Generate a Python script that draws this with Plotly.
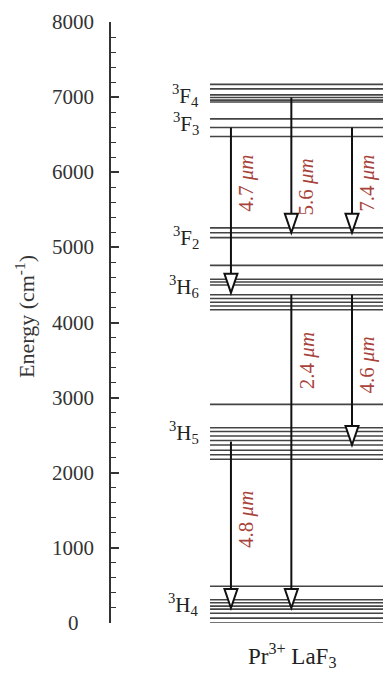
import plotly.graph_objects as go

# Crystal-field levels of Pr3+ in LaF3 (energies in cm^-1)
manifold_labels = ["<sup>3</sup>F<sub>4</sub>", "<sup>3</sup>F<sub>3</sub>",
                   "<sup>3</sup>F<sub>2</sub>", "<sup>3</sup>H<sub>6</sub>",
                   "<sup>3</sup>H<sub>5</sub>", "<sup>3</sup>H<sub>4</sub>"]
manifold_label_energy = [7020, 6650, 5130, 4480, 2530, 250]

levels_3F4 = [7170, 7110, 7030, 6995, 6960, 6935]
levels_3F3 = [6710, 6595, 6475]
levels_3F2 = [5260, 5195, 5130]
levels_extra = [4760, 2910]
levels_3H6 = [4575, 4540, 4500, 4370, 4320, 4270, 4220, 4170]
levels_3H5 = [2600, 2550, 2490, 2430, 2370, 2300, 2240, 2180]
levels_3H4 = [490, 310, 270, 225, 185, 130, 65, 0]

# Radiative transitions: start energy, end energy, column, wavelength label
trans_start = [6595, 6995, 6595, 4370, 4370, 2415]
trans_end = [4395, 5195, 5195, 200, 2370, 200]
trans_column = [4.41, 6.63, 8.86, 6.63, 8.86, 4.41]
trans_label = ["4.7", "5.6", "7.4", "2.4", "4.6", "4.8"]
trans_label_energy = [5860, 5800, 5860, 3490, 3440, 1385]

y_ticks = [0, 1000, 2000, 3000, 4000, 5000, 6000, 7000, 8000]

# Layout geometry
W, H = 383, 674
M_L, M_R, M_T, M_B = 111, 0, 22, 51
X_RANGE = [0, 10]
Y_RANGE = [0, 8000]
plot_w = W - M_L - M_R
plot_h = H - M_T - M_B
px_per_x = plot_w / (X_RANGE[1] - X_RANGE[0])
px_per_y = plot_h / (Y_RANGE[1] - Y_RANGE[0])

SERIF = "Liberation Serif, Times New Roman, serif"
LEVEL_X0 = 3.64
LEVEL_X1 = 10.5

fig = go.Figure()
shapes = []
all_levels = (levels_3F4 + levels_3F3 + levels_3F2 + levels_extra
              + levels_3H6 + levels_3H5 + levels_3H4)
for e in all_levels:
    shapes.append(dict(type="line", xref="x", yref="y", x0=LEVEL_X0, x1=LEVEL_X1,
                       y0=e, y1=e, line=dict(color="#444444", width=1.6), layer="below"))

head_h = 19 / px_per_y          # arrowhead height in energy units
head_hw = 6.5 / px_per_x        # arrowhead half width in x units
for s, e, x in zip(trans_start, trans_end, trans_column):
    base = e + head_h
    shapes.append(dict(type="line", xref="x", yref="y", x0=x, x1=x, y0=s, y1=base,
                       line=dict(color="#111111", width=2)))
    shapes.append(dict(type="path", xref="x", yref="y",
                       path=f"M {x - head_hw},{base} L {x + head_hw},{base} L {x},{e} Z",
                       fillcolor="white", line=dict(color="#111111", width=2)))

annotations = []
for lab, ey in zip(manifold_labels, manifold_label_energy):
    annotations.append(dict(x=3.3, y=ey, xref="x", yref="y", text=lab, showarrow=False,
                            xanchor="right", yanchor="middle",
                            font=dict(family=SERIF, size=21, color="#222222")))

for x, lab, ey in zip(trans_column, trans_label, trans_label_energy):
    annotations.append(dict(x=x, y=ey, xref="x", yref="y", xshift=15,
                            text=f"{lab} <i>μm</i>", showarrow=False, textangle=-90,
                            xanchor="center", yanchor="middle",
                            font=dict(family=SERIF, size=21, color="#a8433c")))

# Tick labels, centred in a common column left of the axis
for t in y_ticks:
    annotations.append(dict(x=-38 / plot_w, y=t, xref="paper", yref="y", text=str(t),
                            showarrow=False, xanchor="center", yanchor="middle",
                            font=dict(family=SERIF, size=21, color="#333333")))

annotations.append(dict(x=-86 / plot_w, y=(623 - 317) / plot_h, xref="paper", yref="paper",
                        text="Energy (cm<sup>-1</sup>)", showarrow=False, textangle=-90,
                        xanchor="center", yanchor="middle",
                        font=dict(family=SERIF, size=22, color="#333333")))

annotations.append(dict(x=(292 - M_L) / plot_w, y=-32 / plot_h, xref="paper", yref="paper",
                        text="Pr<sup>3+</sup> LaF<sub>3</sub>", showarrow=False,
                        xanchor="center", yanchor="middle",
                        font=dict(family=SERIF, size=23, color="#222222")))

fig.update_layout(
    width=W, height=H,
    margin=dict(l=M_L, r=M_R, t=M_T, b=M_B),
    paper_bgcolor="white", plot_bgcolor="white",
    showlegend=False,
    shapes=shapes, annotations=annotations,
    xaxis=dict(range=X_RANGE, visible=False, fixedrange=True),
    yaxis=dict(range=Y_RANGE, showgrid=False, zeroline=False,
               showline=True, linecolor="#333333", linewidth=1.5,
               ticks="inside", ticklen=8, tickwidth=1.5, tickcolor="#333333",
               tickvals=y_ticks, showticklabels=False,
               minor=dict(ticks="inside", ticklen=5, tickwidth=1.2,
                          tickcolor="#333333", dtick=200)),
)

fig.write_html("out.html")
